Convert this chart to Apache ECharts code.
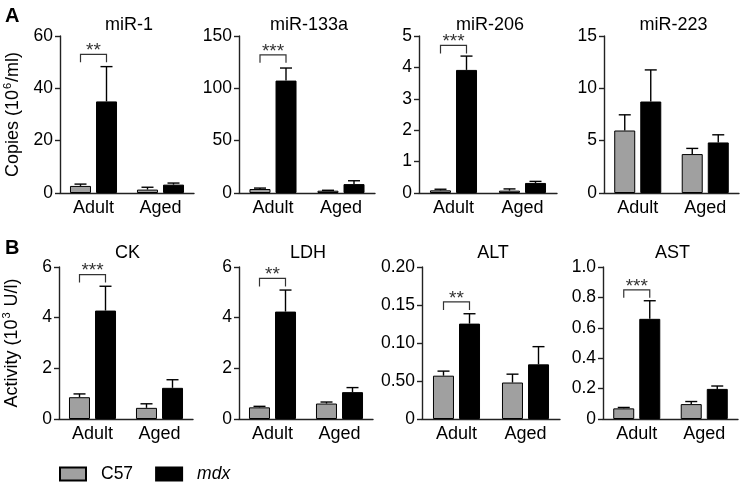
<!DOCTYPE html>
<html>
<head>
<meta charset="utf-8">
<script src="https://cdn.jsdelivr.net/npm/echarts@6/dist/echarts.min.js"></script>
<style>
  html, body { margin: 0; padding: 0; background: #fff; }
  #chart { width: 742px; height: 484px; }
</style>
</head>
<body>
<div id="chart"></div>
<script>
// categories and panels
const groups = ['Adult', 'Aged'];
const titles = ['miR-1', 'miR-133a', 'miR-206', 'miR-223', 'CK', 'LDH', 'ALT', 'AST'];

// y scales and tick labels (as printed)
const yMax = [60, 150, 5, 15, 6, 6, 0.2, 1.0];
const yStep = [20, 50, 1, 5, 2, 2, 0.05, 0.2];
const tickLabels = [
  ['0', '20', '40', '60'],
  ['0', '50', '100', '150'],
  ['0', '1', '2', '3', '4', '5'],
  ['0', '5', '10', '15'],
  ['0', '2', '4', '6'],
  ['0', '2', '4', '6'],
  ['0', '0.50', '0.10', '0.15', '0.20'],
  ['0', '0.2', '0.4', '0.6', '0.8', '1.0']
];

// means and upper error (SEM) per panel: [Adult, Aged]
const c57Mean = [[2.7, 1.3], [3.8, 2.2], [0.085, 0.075], [5.97, 3.72], [0.86, 0.44], [0.46, 0.61], [0.057, 0.048], [0.07, 0.098]];
const c57Sem = [[0.7, 0.9], [0.9, 0.4], [0.035, 0.055], [1.5, 0.54], [0.13, 0.16], [0.04, 0.06], [0.006, 0.011], [0.006, 0.017]];
const mdxMean = [[35, 3.2], [107.4, 8.5], [3.92, 0.32], [8.74, 4.83], [4.28, 1.23], [4.24, 1.06], [0.1255, 0.0719], [0.659, 0.198]];
const mdxSem = [[13.3, 0.6], [12, 3.2], [0.44, 0.05], [3.02, 0.73], [0.96, 0.32], [0.85, 0.18], [0.013, 0.0233], [0.119, 0.019]];

// significance (Adult C57 vs mdx)
const stars = ['**', '***', '***', '', '***', '**', '**', '***'];
const sigLevel = [53, 132, 4.7, null, 5.7, 5.55, 0.154, 0.85];

const FONT = 'Liberation Sans, Arial, sans-serif';
const lefts = [60, 239, 419, 604, 58, 239, 422, 603];
const widths = [134, 136, 138, 135, 135, 134, 138, 135];
const BAR_W = 21, HALF = 13;

const chart = echarts.init(document.getElementById('chart'));

const grid = [], xAxis = [], yAxis = [], series = [];
const title = [
  { text: 'A', left: 0, top: 1, textStyle: { fontFamily: FONT, fontSize: 20, fontWeight: 'bold', color: '#000' } },
  { text: 'B', left: 0, top: 233, textStyle: { fontFamily: FONT, fontSize: 20, fontWeight: 'bold', color: '#000' } }
];

titles.forEach((t, i) => {
  const rowB = i >= 4;
  const top = rowB ? 267 : 36;
  const height = rowB ? 152 : 157;
  grid.push({ left: lefts[i], top: top, width: widths[i], height: height, containLabel: false });
  title.push({
    text: t,
    left: lefts[i] + widths[i] / 2 - 3,
    top: rowB ? 239 : 11,
    textAlign: 'center',
    textStyle: { fontFamily: FONT, fontSize: 18, fontWeight: 'normal', color: '#000' }
  });
  xAxis.push({
    type: 'category', gridIndex: i, data: groups,
    axisLine: { lineStyle: { color: '#222', width: 1.4 } },
    axisTick: { alignWithLabel: true, length: 5, lineStyle: { color: '#222', width: 1.4 } },
    axisLabel: { fontFamily: FONT, fontSize: 18, color: '#000', margin: 6 }
  });
  const y = {
    type: 'value', gridIndex: i, min: 0, max: yMax[i], interval: yStep[i],
    axisLine: { show: true, lineStyle: { color: '#222', width: 1.4 } },
    axisTick: { show: true, length: 5, lineStyle: { color: '#222', width: 1.4 } },
    splitLine: { show: false },
    axisLabel: {
      fontFamily: FONT, fontSize: 17.5, color: '#000', margin: 7,
      formatter: (v, idx) => tickLabels[i][idx]
    }
  };
  if (i === 0 || i === 4) {
    y.name = i === 0 ? '{n|Copies (10}{s|6}{n|/ml)}' : '{n|Activity (10}{s|3}{n| U/l)}';
    y.nameLocation = 'middle';
    y.nameGap = 38;
    y.nameRotate = 90;
    y.nameTextStyle = {
      fontFamily: FONT, color: '#000',
      rich: {
        n: { fontFamily: FONT, fontSize: 18, color: '#000', lineHeight: 20, verticalAlign: 'bottom' },
        s: { fontFamily: FONT, fontSize: 11, color: '#000', lineHeight: 20, verticalAlign: 'top', padding: [0, 1, 7, 1] }
      }
    };
  }
  yAxis.push(y);

  series.push({
    name: 'C57', type: 'bar', xAxisIndex: i, yAxisIndex: i,
    barWidth: BAR_W, barGap: '24%',
    itemStyle: { color: '#a0a0a0', borderColor: '#000', borderWidth: 1 },
    data: c57Mean[i]
  });
  series.push({
    name: 'mdx', type: 'bar', xAxisIndex: i, yAxisIndex: i,
    barWidth: BAR_W, barGap: '24%',
    itemStyle: { color: '#000', borderColor: '#000', borderWidth: 1 },
    data: mdxMean[i]
  });

  // error bars (upper only, with cap)
  const errData = [];
  groups.forEach((g, k) => {
    errData.push([k, c57Mean[i][k], c57Mean[i][k] + c57Sem[i][k], -1]);
    errData.push([k, mdxMean[i][k], mdxMean[i][k] + mdxSem[i][k], 1]);
  });
  series.push({
    type: 'custom', xAxisIndex: i, yAxisIndex: i, z: 5, silent: true,
    encode: { x: 0, y: [1, 2] },
    data: errData,
    renderItem: (params, api) => {
      const base = api.coord([api.value(0), api.value(1)]);
      const topP = api.coord([api.value(0), api.value(2)]);
      const cx = base[0] + api.value(3) * HALF;
      const st = { stroke: '#000', lineWidth: 1.4, fill: null };
      return {
        type: 'group',
        children: [
          { type: 'line', shape: { x1: cx, y1: base[1], x2: cx, y2: topP[1] }, style: st },
          { type: 'line', shape: { x1: cx - 6, y1: topP[1], x2: cx + 6, y2: topP[1] }, style: st }
        ]
      };
    }
  });

  if (sigLevel[i] !== null) {
    series.push({
      type: 'custom', xAxisIndex: i, yAxisIndex: i, z: 6, silent: true,
      encode: { x: 0, y: 1 },
      data: [[0, sigLevel[i]]],
      renderItem: (params, api) => {
        const p = api.coord([api.value(0), api.value(1)]);
        const x1 = p[0] - HALF, x2 = p[0] + HALF, yT = p[1], yB = p[1] + 8;
        return {
          type: 'group',
          children: [
            { type: 'polyline', shape: { points: [[x1, yB], [x1, yT], [x2, yT], [x2, yB]] },
              style: { stroke: '#333', lineWidth: 1.2, fill: null } },
            { type: 'text', x: p[0], y: yT + 6,
              style: { text: stars[i], fontFamily: FONT, fontSize: 19, fill: '#333', align: 'center', verticalAlign: 'bottom' } }
          ]
        };
      }
    });
  }
});

chart.setOption({
  animation: false,
  backgroundColor: '#fff',
  title: title,
  grid: grid,
  xAxis: xAxis,
  yAxis: yAxis,
  legend: {
    data: ['C57', 'mdx'],
    left: 54, top: 460,
    icon: 'rect', itemWidth: 26, itemHeight: 13, itemGap: 22,
    formatter: name => name === 'mdx' ? '{i|mdx}' : name,
    textStyle: {
      fontFamily: FONT, fontSize: 17.5, color: '#000', padding: [0, 0, 0, 10],
      rich: { i: { fontFamily: FONT, fontSize: 17.5, fontStyle: 'italic', color: '#000' } }
    }
  },
  series: series
});
</script>
</body>
</html>
